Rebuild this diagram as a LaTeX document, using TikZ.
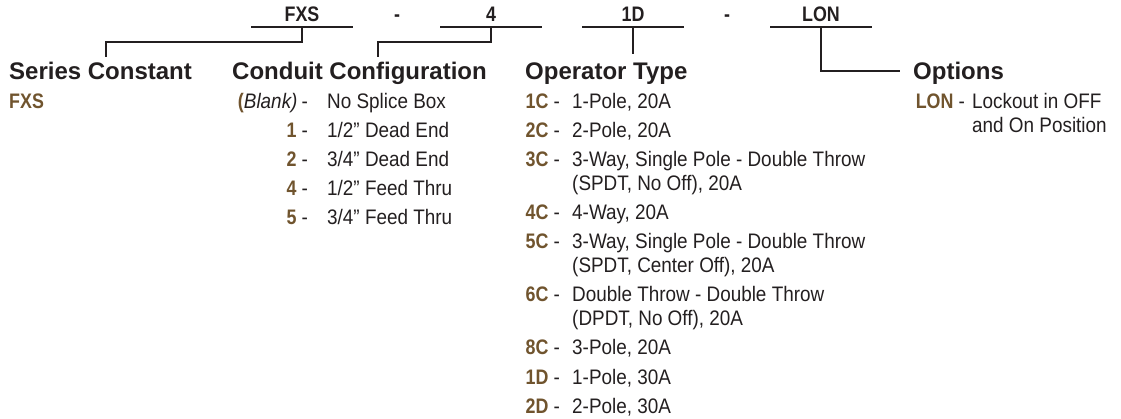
\documentclass[tikz,border=0pt]{standalone}
\usepackage{fontspec}
\usepackage{tikz}
\setmainfont{Liberation Sans}
\newfontfamily\condfont[FakeStretch=0.9]{Liberation Sans}
\newfontfamily\condboldfont[FakeStretch=0.85]{Liberation Sans Bold}
\definecolor{ink}{HTML}{231F20}
\definecolor{tan}{RGB}{112,84,46}
\newcommand\cd[1]{{\condboldfont\color{tan}#1}\kern5pt}
\tikzset{
  topcode/.style = {font=\condboldfont\fontsize{21}{24}\selectfont, text=ink,
    anchor=base, inner sep=0pt},% code du haut
  topline/.style = {topcode, minimum width=101pt, text depth=5pt},% code souligne
  heading/.style = {font=\bfseries\fontsize{24}{27}\selectfont, text=ink,
    anchor=base west, inner sep=0pt},% titre de colonne
  code/.style = {font=\condfont\fontsize{21}{24}\selectfont, text=ink,
    anchor=base east, inner sep=0pt},% code + tiret
  desc/.style = {font=\condfont\fontsize{21}{24}\selectfont, text=ink,
    anchor=base west, inner sep=0pt, align=left},% description (base = derniere ligne)
  link/.style = {draw=ink, line width=2.5pt}% trait de liaison
}

\begin{document}
\begin{tikzpicture}[x=1pt,y=-1pt]
\useasboundingbox (0,0) rectangle (1121,419);

% ligne des codes
\node [topline] (fxs) at (302,22) {FXS};
\node [topcode] (dash1) at (397,22) {-};
\node [topline] (cfg) at (491,22) {4};
\node [topline] (oper) at (633,22) {1D};
\node [topcode] (dash2) at (727,22) {-};
\node [topline] (lon) at (821,22) {LON};
\draw [link] (fxs.south west) -- (fxs.south east);
\draw [link] (cfg.south west) -- (cfg.south east);
\draw [link] (oper.south west) -- (oper.south east);
\draw [link] (lon.south west) -- (lon.south east);

% titres
\node [heading] (series) at (9,80) {Series Constant};
\node [heading] (conduit) at (232,80) {Conduit Configuration};
\node [heading] (optype) at (525,80) {Operator Type};
\node [heading] (options) at (913,80) {Options};

\coordinate (s_in) at (106,57);
\coordinate (c_in) at (378,57);
\coordinate (o_in) at (633,54);
\coordinate (p_in) at (900,71);
\draw [link] (fxs.south) -- ++(0,15) -| (s_in);
\draw [link] (cfg.south) -- ++(0,15) -| (c_in);
\draw [link] (oper.south) -- (o_in);
\draw [link] (lon.south) |- (p_in);

% Series Constant
\node [code, anchor=base west] (s1) at (9,109) {\cd{FXS}};

% Conduit Configuration
\node [code] (c0) at (308,109) {{\condboldfont\color{tan}(}\textit{Blank)}\kern4pt-};
\node [desc] (c0t) at (327,109) {No Splice Box};
\node [code] (c1) at (308,138) {\cd{1}-};
\node [desc] (c1t) at (327,138) {1/2” Dead End};
\node [code] (c2) at (308,167) {\cd{2}-};
\node [desc] (c2t) at (327,167) {3/4” Dead End};
\node [code] (c4) at (308,196) {\cd{4}-};
\node [desc] (c4t) at (327,196) {1/2” Feed Thru};
\node [code] (c5) at (308,225) {\cd{5}-};
\node [desc] (c5t) at (327,225) {3/4” Feed Thru};

% Operator Type
\node [code] (o1c) at (560,109) {\cd{1C}-};
\node [desc] (o1ct) at (572,109) {1-Pole, 20A};
\node [code] (o2c) at (560,138) {\cd{2C}-};
\node [desc] (o2ct) at (572,138) {2-Pole, 20A};
\node [code] (o3c) at (560,167) {\cd{3C}-};
\node [desc] (o3ct) at (572,191) {3-Way, Single Pole - Double Throw\\(SPDT, No Off), 20A};
\node [code] (o4c) at (560,220) {\cd{4C}-};
\node [desc] (o4ct) at (572,220) {4-Way, 20A};
\node [code] (o5c) at (560,249) {\cd{5C}-};
\node [desc] (o5ct) at (572,273) {3-Way, Single Pole - Double Throw\\(SPDT, Center Off), 20A};
\node [code] (o6c) at (560,302) {\cd{6C}-};
\node [desc] (o6ct) at (572,326) {Double Throw - Double Throw\\(DPDT, No Off), 20A};
\node [code] (o8c) at (560,355) {\cd{8C}-};
\node [desc] (o8ct) at (572,355) {3-Pole, 20A};
\node [code] (o1d) at (560,384) {\cd{1D}-};
\node [desc] (o1dt) at (572,384) {1-Pole, 30A};
\node [code] (o2d) at (560,413) {\cd{2D}-};
\node [desc] (o2dt) at (572,413) {2-Pole, 30A};

% Options
\node [code] (p1) at (965,109) {\cd{LON}-};
\node [desc] (p1t) at (972,133) {Lockout in OFF\\and On Position};

\end{tikzpicture}
\end{document}
